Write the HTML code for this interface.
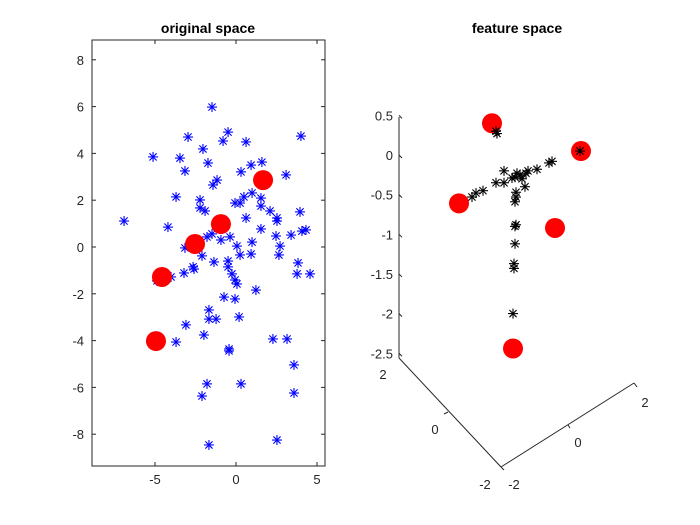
<!DOCTYPE html>
<html><head><meta charset="utf-8"><style>
body{margin:0;background:#fff;}
svg{display:block;font-family:"Liberation Sans",sans-serif;}
</style></head><body>
<svg id="chart" width="700" height="525" viewBox="0 0 700 525" xmlns="http://www.w3.org/2000/svg">
<rect width="700" height="525" fill="#fff"/>
<g id="left"></g>
<g id="right"></g>
</svg>
<script>
const origX=[-1.48,-2.96,-0.49,-0.80,0.62,4.01,-5.12,-3.46,-2.04,-1.73,-3.15,0.31,0.93,1.60,3.09,-1.17,-1.42,-3.70,-2.22,-2.22,-1.91,-0.06,0.25,0.49,0.99,1.54,1.54,2.10,2.53,2.53,3.95,-6.91,-4.20,0.62,1.54,2.47,3.40,4.07,4.32,-1.79,-1.48,-0.93,-0.37,0.99,0.06,2.72,-3.15,-2.10,0.25,0.93,2.65,-1.36,-0.49,3.83,-2.65,-4.01,-3.21,-2.59,-0.49,-0.25,-0.06,0.06,1.23,3.77,4.57,-0.74,-0.06,-1.67,-1.67,-1.23,0.19,-3.09,-1.98,-3.70,2.28,3.15,-0.43,-0.43,3.58,-1.79,0.31,-2.10,3.58,-1.67,2.53,-4.88];
const origY=[5.98,4.70,4.91,4.53,4.49,4.74,3.85,3.80,4.19,3.59,3.25,3.21,3.50,3.63,3.08,2.86,2.65,2.14,2.01,1.67,1.54,1.88,1.88,2.14,2.31,2.09,1.75,1.54,1.24,1.11,1.50,1.11,0.85,1.24,0.77,0.47,0.51,0.68,0.73,0.43,0.56,0.30,0.43,0.21,0.04,0.04,-0.04,-0.38,-0.34,-0.30,-0.34,-0.64,-0.60,-0.68,-0.85,-1.28,-1.11,-0.94,-0.85,-1.15,-1.41,-1.58,-1.84,-1.15,-1.15,-2.14,-2.22,-2.69,-3.08,-3.08,-2.99,-3.33,-3.76,-4.06,-3.93,-3.93,-4.36,-4.44,-5.04,-5.85,-5.85,-6.37,-6.24,-8.46,-8.25,-1.45];
const centX=[1.67,-0.93,-2.53,-4.57,-4.94];
const centY=[2.86,0.98,0.13,-1.28,-4.02];
const xTicks=[-5,0,5];
const yTicks=[-8,-6,-4,-2,0,2,4,6,8];
// feature space: projected horizontal coordinate u and vertical z
const featU=[-0.04,-0.03,0.80,0.52,0.49,0.37,0.28,0.26,0.04,0.17,0.15,0.20,0.22,0.12,-0.04,0.04,0.25,-0.17,-0.24,-0.28,0.16,0.16,0.15,0.16,0.15,0.15,0.14,0.14,0.13];
const featZ=[0.30,0.27,0.05,-0.08,-0.10,-0.18,-0.20,-0.23,-0.20,-0.23,-0.28,-0.25,-0.30,-0.29,-0.35,-0.35,-0.40,-0.45,-0.48,-0.53,-0.47,-0.53,-0.59,-0.88,-0.90,-1.12,-1.37,-1.43,-2.00];
const fcU=[-0.08,0.81,-0.41,0.55,0.13];
const fcZ=[0.40,0.05,-0.61,-0.92,-2.44];
const zTicks=[0.5,0,-0.5,-1,-1.5,-2,-2.5];
const NS="http://www.w3.org/2000/svg";
function mk(p,tag,a){const e=document.createElementNS(NS,tag);for(const k in a)e.setAttribute(k,a[k]);p.appendChild(e);return e;}
const sx=x=>236+16.2*x, sy=y=>247-23.4*y;
const fx=u=>500+100*u, fz=z=>155-79.3*z;
const L=document.getElementById('left'), R=document.getElementById('right');
function star(p,x,y,c,name){const g=mk(p,'g',{stroke:c,'stroke-width':1.1});


const r=5,d=3.6;mk(g,'line',{x1:x-r,y1:y,x2:x+r,y2:y});mk(g,'line',{x1:x,y1:y-r,x2:x,y2:y+r});
mk(g,'line',{x1:x-d,y1:y-d,x2:x+d,y2:y+d});mk(g,'line',{x1:x-d,y1:y+d,x2:x+d,y2:y-d});}
// left axes
const box=mk(L,'rect',{x:92,y:40,width:233,height:426,fill:'none',stroke:'#262626','stroke-width':1});


const t1=mk(L,'text',{x:208,y:33,'text-anchor':'middle','font-size':14,'font-weight':'bold',fill:'#000'});t1.textContent='original space';


xTicks.forEach(v=>{const X=sx(v);mk(L,'line',{x1:X,y1:466,x2:X,y2:462,stroke:'#262626'});mk(L,'line',{x1:X,y1:40,x2:X,y2:44,stroke:'#262626'});
const t=mk(L,'text',{x:X,y:484,'text-anchor':'middle','font-size':13,fill:'#262626'});t.textContent=v;

});
yTicks.forEach(v=>{const Y=sy(v);mk(L,'line',{x1:92,y1:Y,x2:96,y2:Y,stroke:'#262626'});mk(L,'line',{x1:325,y1:Y,x2:321,y2:Y,stroke:'#262626'});
const t=mk(L,'text',{x:84,y:Y+5,'text-anchor':'end','font-size':13,fill:'#262626'});t.textContent=v;

});
origX.forEach((x,i)=>star(L,sx(x),sy(origY[i]),'#0000ff','data-point'));
centX.forEach((x,i)=>{const c=mk(L,'circle',{cx:sx(x),cy:sy(centY[i]),r:10,fill:'#ff0000'});

});
// right axes
const t2=mk(R,'text',{x:517,y:33,'text-anchor':'middle','font-size':14,'font-weight':'bold',fill:'#000'});t2.textContent='feature space';


mk(R,'line',{x1:399,y1:117,x2:399,y2:358,stroke:'#262626'});
mk(R,'line',{x1:399,y1:358,x2:501,y2:467,stroke:'#262626'});
mk(R,'line',{x1:501,y1:467,x2:634,y2:383,stroke:'#262626'});
zTicks.forEach(v=>{const Y=fz(v);mk(R,'line',{x1:399,y1:Y,x2:402,y2:Y+3,stroke:'#262626'});
const t=mk(R,'text',{x:393,y:Y+5,'text-anchor':'end','font-size':13,fill:'#262626'});t.textContent=v;

});
[[383,379,'2'],[435,434,'0'],[485,489,'-2'],[514,489,'-2'],[578,447,'0'],[645,407,'2']].forEach(a=>{
const t=mk(R,'text',{x:a[0],y:a[1],'text-anchor':'middle','font-size':13,fill:'#262626'});t.textContent=a[2];

});
mk(R,'line',{x1:448,y1:412,x2:444,y2:414,stroke:'#262626'});
mk(R,'line',{x1:568,y1:425,x2:570,y2:428,stroke:'#262626'});
mk(R,'line',{x1:634,y1:383,x2:637,y2:387,stroke:'#262626'});
mk(R,'line',{x1:501,y1:467,x2:504,y2:470,stroke:'#262626'});
fcU.forEach((u,i)=>{const c=mk(R,'circle',{cx:fx(u),cy:fz(fcZ[i]),r:10,fill:'#ff0000'});

});
featU.forEach((u,i)=>star(R,fx(u),fz(featZ[i]),'#000','feature-point'));
</script>
</body></html>
